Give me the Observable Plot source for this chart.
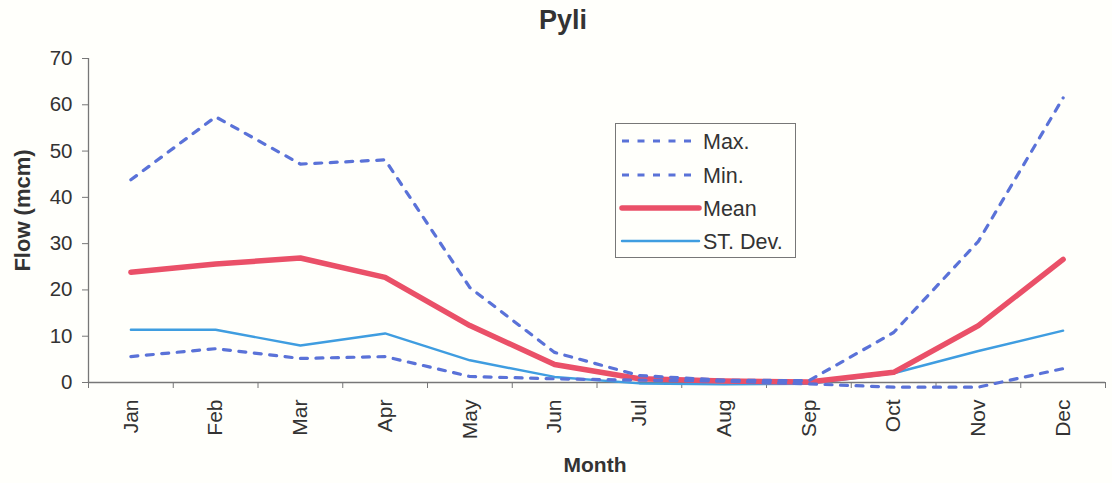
<!DOCTYPE html>
<html>
<head>
<meta charset="utf-8">
<script src="https://cdn.jsdelivr.net/npm/d3@7"></script>
<script src="https://cdn.jsdelivr.net/npm/@observablehq/plot@0.6"></script>
<style>
  html, body { margin: 0; padding: 0; background: #fffffb; }
  #wrap { position: relative; width: 1112px; height: 483px; font-family: "Liberation Sans", Arial, sans-serif; }
  #legend { position: absolute; left: 615px; top: 123px; width: 181px; height: 135px; box-sizing: border-box; border: 1.3px solid #777; background: #fffffb; }
</style>
</head>
<body>
<div id="wrap"></div>
<script>
const months = ["Jan","Feb","Mar","Apr","May","Jun","Jul","Aug","Sep","Oct","Nov","Dec"];
const maxFlow  = [43.8, 57.4, 47.2, 48.1, 20.5, 6.5, 1.5, 0.5, 0.4, 10.8, 30.5, 61.5];
const minFlow  = [5.6, 7.3, 5.2, 5.6, 1.3, 0.8, 0.5, 0.3, -0.3, -1.0, -1.0, 3.0];
const meanFlow = [23.8, 25.6, 26.9, 22.7, 12.3, 3.9, 0.8, 0.3, 0.1, 2.2, 12.3, 26.6];
const stdFlow  = [11.4, 11.4, 8.0, 10.6, 4.8, 1.2, -0.2, -0.4, -0.3, 2.0, 6.8, 11.2];
const yTicks = [0, 10, 20, 30, 40, 50, 60, 70];
const seriesNames = ["Max.", "Min.", "Mean", "ST. Dev."];

const COL_DASH = "#5a72d8", COL_MEAN = "#ea5068", COL_STD = "#3f9de0";
const font = '"Liberation Sans", Arial, sans-serif';

const rows = (vals) => vals.map((v, i) => ({x: i + 0.5, y: v, month: months[i]}));

const chart = Plot.plot({
  width: 1112, height: 483,
  marginLeft: 88, marginRight: 7, marginTop: 58, marginBottom: 101,
  x: {type: "linear", domain: [0, 12]},
  y: {domain: [0, 70]},
  style: {fontFamily: font, background: "#fffffb", color: "#333", overflow: "visible"},
  marks: [
    Plot.axisY({ticks: yTicks, tickSize: 6, tickPadding: 10, fontSize: 20.5, label: null, stroke: "#777", fill: "#333"}),
    Plot.axisX({ticks: d3.range(13), tickFormat: () => "", tickSize: 6, label: null, stroke: "#777"}),
    Plot.axisX({ticks: months.map((m, i) => i + 0.5), tickFormat: d => months[Math.floor(d)], tickSize: 0, tickPadding: 17, tickRotate: -90, fontSize: 21, label: null, fill: "#333"}),
    Plot.ruleX([0], {stroke: "#777", strokeWidth: 1.3}),
    Plot.ruleY([0], {stroke: "#777", strokeWidth: 1.3}),
    Plot.line(rows(stdFlow), {x: "x", y: "y", stroke: COL_STD, strokeWidth: 2.4}),
    Plot.line(rows(meanFlow), {x: "x", y: "y", stroke: COL_MEAN, strokeWidth: 5.5, strokeLinejoin: "round"}),
    Plot.line(rows(maxFlow), {x: "x", y: "y", stroke: COL_DASH, strokeWidth: 3.2, strokeDasharray: "7,8.5"}),
    Plot.line(rows(minFlow), {x: "x", y: "y", stroke: COL_DASH, strokeWidth: 3.2, strokeDasharray: "7,8.5"}),
    Plot.text(["Pyli"], {frameAnchor: "top", dx: -34, dy: -38, fontSize: 27, fontWeight: "bold", fill: "#333", lineAnchor: "middle"}),
    Plot.text(["Flow (mcm)"], {frameAnchor: "left", textAnchor: "middle", dx: -66, dy: -10, rotate: -90, fontSize: 22, fontWeight: "bold", fill: "#333", lineAnchor: "middle"}),
    Plot.text(["Month"], {frameAnchor: "bottom", dx: -2, dy: 83, fontSize: 21, fontWeight: "bold", fill: "#333", lineAnchor: "middle"})
  ]
});

const wrap = document.getElementById("wrap");
wrap.appendChild(chart);

// Legend
const legend = document.createElement("div");
legend.id = "legend";
const styles = [
  {stroke: COL_DASH, width: 3.2, dash: "7,8.5"},
  {stroke: COL_DASH, width: 3.2, dash: "7,8.5"},
  {stroke: COL_MEAN, width: 5.5, dash: null},
  {stroke: COL_STD, width: 2.4, dash: null}
];
const rowY = [18, 52, 85, 118];
let svg = `<svg width="181" height="135" style="position:absolute;left:-1px;top:-1px;overflow:visible;font-family:${font.replace(/"/g, "'")}">`;
seriesNames.forEach((name, i) => {
  const s = styles[i];
  svg += `<line x1="7" x2="84" y1="${rowY[i]}" y2="${rowY[i]}" stroke="${s.stroke}" stroke-width="${s.width}" ${s.dash ? `stroke-dasharray="${s.dash}"` : ""} stroke-linecap="${s.dash ? "butt" : "round"}"/>`;
  svg += `<text x="88" y="${rowY[i]}" dy="0.35em" font-size="21.5" fill="#333">${name}</text>`;
});
svg += `</svg>`;
legend.innerHTML = svg;
wrap.appendChild(legend);
</script>
</body>
</html>
